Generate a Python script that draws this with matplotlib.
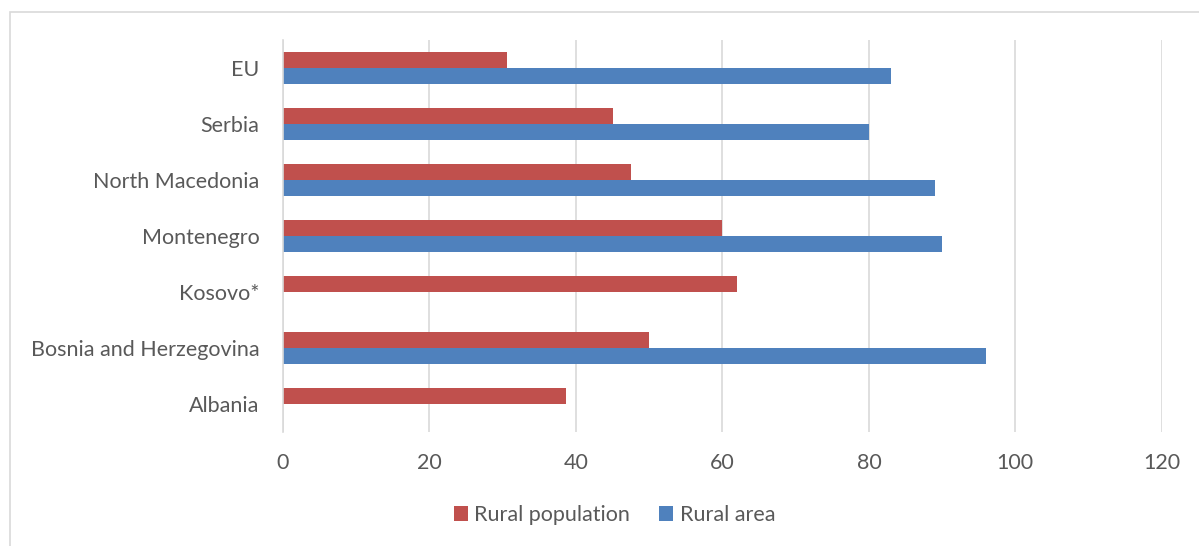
import numpy as np
import matplotlib.pyplot as plt
from matplotlib.patches import Rectangle

# ===== DONNÉES =====
countries = ['Albania', 'Bosnia and Herzegovina', 'Kosovo*', 'Montenegro',
             'North Macedonia', 'Serbia', 'EU']
rural_population = [38.6, 50.0, 62.0, 60.0, 47.5, 45.0, 30.6]
rural_area = [np.nan, 96.0, np.nan, 90.0, 89.0, 80.0, 83.0]
x_ticks = [0, 20, 40, 60, 80, 100, 120]

red = '#C0504D'
blue = '#4F81BD'
grid = '#D9D9D9'
txt = '#595959'
fs = 15.5

plt.rcParams['font.family'] = ['Lato', 'DejaVu Sans']

fig = plt.figure(figsize=(11.99, 5.46), dpi=100)
ax = fig.add_axes([0.236, 0.209, 0.733, 0.718])

# cadre extérieur
fig.patches.append(Rectangle((10 / 1199, -0.01), 1.02, (546 - 12) / 546 + 0.01,
                             transform=fig.transFigure, fill=False,
                             edgecolor=grid, linewidth=1.2))

y = np.arange(len(countries))
h = 0.286
ax.barh(y + h / 2, rural_population, height=h, color=red, label='Rural population')
ax.barh(y - h / 2, rural_area, height=h, color=blue, label='Rural area')

ax.set_xlim(0, 120)
ax.set_ylim(-0.5, len(countries) - 0.5)
ax.set_xticks(x_ticks)
ax.set_yticks(y)
ax.set_yticklabels(countries)
ax.tick_params(axis='both', length=0, labelsize=fs, colors=txt)
ax.tick_params(axis='x', pad=15)
ax.tick_params(axis='y', pad=17)

ax.grid(axis='x', color=grid, linewidth=1.2)
ax.set_axisbelow(True)
for s in ['top', 'right', 'bottom']:
    ax.spines[s].set_visible(False)
ax.spines['left'].set_color(grid)
ax.spines['left'].set_linewidth(1.2)

fig.legend(loc='center', bbox_to_anchor=(0.5125, 0.057), ncol=2, frameon=False,
           fontsize=fs, labelcolor=txt, handlelength=0.65, handleheight=0.65,
           handletextpad=0.3, columnspacing=1.35)

plt.savefig('out.png', dpi=100)
